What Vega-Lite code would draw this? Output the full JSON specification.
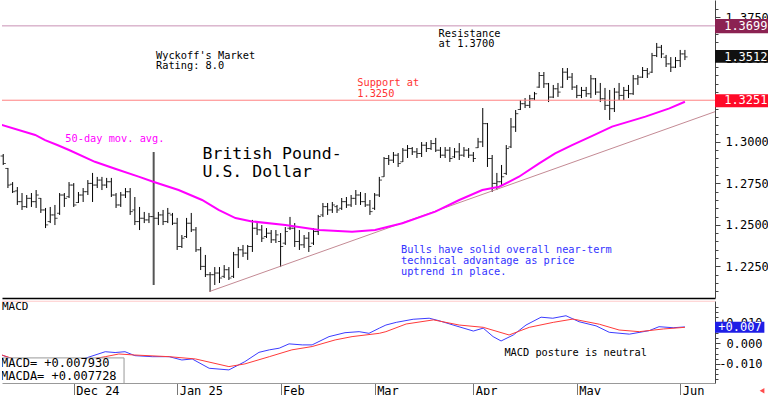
{
"$schema": "https://vega.github.io/schema/vega-lite/v6.json",
"padding": 0,
"autosize": {"type": "pad"},
"background": "white",
"spacing": 3,
"bounds": "flush",
"config": {"view": {"stroke": null}},
"datasets": {
"one": [{}],
"bars": [
{"i":-15,"o":1.2915,"h":1.2927,"l":1.2861,"c":1.2870},
{"i":-14,"o":1.2840,"h":1.2843,"l":1.2722,"c":1.2740},
{"i":-13,"o":1.2745,"h":1.2758,"l":1.2692,"c":1.2700},
{"i":-12,"o":1.2705,"h":1.2728,"l":1.2620,"c":1.2640},
{"i":-11,"o":1.2640,"h":1.2692,"l":1.2590,"c":1.2610},
{"i":-10,"o":1.2610,"h":1.2680,"l":1.2602,"c":1.2660},
{"i":-9,"o":1.2660,"h":1.2692,"l":1.2608,"c":1.2640},
{"i":-8,"o":1.2640,"h":1.2710,"l":1.2602,"c":1.2680},
{"i":-7,"o":1.2660,"h":1.2662,"l":1.2572,"c":1.2590},
{"i":-6,"o":1.2590,"h":1.2602,"l":1.2481,"c":1.2500},
{"i":-5,"o":1.2520,"h":1.2608,"l":1.2511,"c":1.2560},
{"i":-4,"o":1.2560,"h":1.2620,"l":1.2499,"c":1.2540},
{"i":-3,"o":1.2570,"h":1.2692,"l":1.2560,"c":1.2680},
{"i":-2,"o":1.2680,"h":1.2692,"l":1.2608,"c":1.2660},
{"i":-1,"o":1.2670,"h":1.2758,"l":1.2662,"c":1.2740},
{"i":0,"o":1.2740,"h":1.2752,"l":1.2608,"c":1.2620},
{"i":1,"o":1.2635,"h":1.2698,"l":1.2632,"c":1.2680},
{"i":2,"o":1.2680,"h":1.2722,"l":1.2638,"c":1.2700},
{"i":3,"o":1.2700,"h":1.2770,"l":1.2680,"c":1.2750},
{"i":4,"o":1.2750,"h":1.2813,"l":1.2638,"c":1.2740},
{"i":5,"o":1.2740,"h":1.2789,"l":1.2722,"c":1.2770},
{"i":6,"o":1.2770,"h":1.2789,"l":1.2710,"c":1.2740},
{"i":7,"o":1.2740,"h":1.2783,"l":1.2722,"c":1.2760},
{"i":8,"o":1.2760,"h":1.2783,"l":1.2668,"c":1.2680},
{"i":9,"o":1.2680,"h":1.2692,"l":1.2602,"c":1.2620},
{"i":10,"o":1.2620,"h":1.2698,"l":1.2608,"c":1.2680},
{"i":11,"o":1.2680,"h":1.2722,"l":1.2662,"c":1.2700},
{"i":12,"o":1.2700,"h":1.2722,"l":1.2560,"c":1.2580},
{"i":13,"o":1.2590,"h":1.2668,"l":1.2499,"c":1.2520},
{"i":14,"o":1.2520,"h":1.2608,"l":1.2469,"c":1.2540},
{"i":15,"o":1.2540,"h":1.2578,"l":1.2511,"c":1.2530},
{"i":16,"o":1.2530,"h":1.2572,"l":1.2511,"c":1.2550},
{"i":17,"o":1.2550,"h":1.2939,"l":1.2138,"c":1.2540},
{"i":18,"o":1.2540,"h":1.2578,"l":1.2499,"c":1.2560},
{"i":19,"o":1.2560,"h":1.2590,"l":1.2499,"c":1.2520},
{"i":20,"o":1.2520,"h":1.2602,"l":1.2511,"c":1.2570},
{"i":21,"o":1.2560,"h":1.2572,"l":1.2499,"c":1.2510},
{"i":22,"o":1.2510,"h":1.2542,"l":1.2349,"c":1.2370},
{"i":23,"o":1.2370,"h":1.2439,"l":1.2361,"c":1.2420},
{"i":24,"o":1.2430,"h":1.2542,"l":1.2421,"c":1.2510},
{"i":25,"o":1.2510,"h":1.2572,"l":1.2457,"c":1.2470},
{"i":26,"o":1.2470,"h":1.2487,"l":1.2337,"c":1.2350},
{"i":27,"o":1.2350,"h":1.2367,"l":1.2228,"c":1.2250},
{"i":28,"o":1.2250,"h":1.2319,"l":1.2186,"c":1.2200},
{"i":29,"o":1.2200,"h":1.2216,"l":1.2096,"c":1.2200},
{"i":30,"o":1.2200,"h":1.2246,"l":1.2138,"c":1.2210},
{"i":31,"o":1.2210,"h":1.2246,"l":1.2150,"c":1.2180},
{"i":32,"o":1.2190,"h":1.2258,"l":1.2180,"c":1.2230},
{"i":33,"o":1.2230,"h":1.2246,"l":1.2168,"c":1.2180},
{"i":34,"o":1.2190,"h":1.2337,"l":1.2180,"c":1.2320},
{"i":35,"o":1.2320,"h":1.2367,"l":1.2240,"c":1.2350},
{"i":36,"o":1.2350,"h":1.2379,"l":1.2307,"c":1.2330},
{"i":37,"o":1.2330,"h":1.2379,"l":1.2289,"c":1.2370},
{"i":38,"o":1.2370,"h":1.2530,"l":1.2337,"c":1.2480},
{"i":39,"o":1.2480,"h":1.2511,"l":1.2439,"c":1.2470},
{"i":40,"o":1.2470,"h":1.2499,"l":1.2397,"c":1.2420},
{"i":41,"o":1.2430,"h":1.2481,"l":1.2421,"c":1.2450},
{"i":42,"o":1.2450,"h":1.2469,"l":1.2391,"c":1.2410},
{"i":43,"o":1.2410,"h":1.2469,"l":1.2391,"c":1.2440},
{"i":44,"o":1.2400,"h":1.2451,"l":1.2246,"c":1.2370},
{"i":45,"o":1.2390,"h":1.2487,"l":1.2379,"c":1.2460},
{"i":46,"o":1.2480,"h":1.2548,"l":1.2469,"c":1.2480},
{"i":47,"o":1.2480,"h":1.2511,"l":1.2367,"c":1.2400},
{"i":48,"o":1.2400,"h":1.2469,"l":1.2349,"c":1.2380},
{"i":49,"o":1.2380,"h":1.2439,"l":1.2361,"c":1.2420},
{"i":50,"o":1.2420,"h":1.2457,"l":1.2337,"c":1.2370},
{"i":51,"o":1.2390,"h":1.2481,"l":1.2379,"c":1.2460},
{"i":52,"o":1.2460,"h":1.2560,"l":1.2439,"c":1.2550},
{"i":53,"o":1.2560,"h":1.2632,"l":1.2548,"c":1.2610},
{"i":54,"o":1.2610,"h":1.2632,"l":1.2560,"c":1.2590},
{"i":55,"o":1.2590,"h":1.2638,"l":1.2572,"c":1.2620},
{"i":56,"o":1.2610,"h":1.2620,"l":1.2572,"c":1.2590},
{"i":57,"o":1.2600,"h":1.2662,"l":1.2590,"c":1.2640},
{"i":58,"o":1.2640,"h":1.2668,"l":1.2602,"c":1.2620},
{"i":59,"o":1.2620,"h":1.2680,"l":1.2608,"c":1.2660},
{"i":60,"o":1.2660,"h":1.2710,"l":1.2620,"c":1.2680},
{"i":61,"o":1.2680,"h":1.2698,"l":1.2620,"c":1.2640},
{"i":62,"o":1.2640,"h":1.2692,"l":1.2608,"c":1.2620},
{"i":63,"o":1.2620,"h":1.2650,"l":1.2560,"c":1.2580},
{"i":64,"o":1.2600,"h":1.2692,"l":1.2590,"c":1.2680},
{"i":65,"o":1.2680,"h":1.2789,"l":1.2668,"c":1.2770},
{"i":66,"o":1.2790,"h":1.2909,"l":1.2789,"c":1.2900},
{"i":67,"o":1.2900,"h":1.2921,"l":1.2861,"c":1.2890},
{"i":68,"o":1.2890,"h":1.2939,"l":1.2873,"c":1.2920},
{"i":69,"o":1.2920,"h":1.2933,"l":1.2849,"c":1.2870},
{"i":70,"o":1.2880,"h":1.2963,"l":1.2879,"c":1.2950},
{"i":71,"o":1.2950,"h":1.2981,"l":1.2903,"c":1.2960},
{"i":72,"o":1.2960,"h":1.2969,"l":1.2921,"c":1.2940},
{"i":73,"o":1.2940,"h":1.2963,"l":1.2903,"c":1.2930},
{"i":74,"o":1.2930,"h":1.2999,"l":1.2909,"c":1.2980},
{"i":75,"o":1.2980,"h":1.2999,"l":1.2939,"c":1.2960},
{"i":76,"o":1.2960,"h":1.3011,"l":1.2951,"c":1.2990},
{"i":77,"o":1.2990,"h":1.3024,"l":1.2939,"c":1.2950},
{"i":78,"o":1.2950,"h":1.2969,"l":1.2903,"c":1.2920},
{"i":79,"o":1.2920,"h":1.2969,"l":1.2903,"c":1.2950},
{"i":80,"o":1.2950,"h":1.2969,"l":1.2879,"c":1.2900},
{"i":81,"o":1.2910,"h":1.2963,"l":1.2903,"c":1.2940},
{"i":82,"o":1.2940,"h":1.2993,"l":1.2891,"c":1.2920},
{"i":83,"o":1.2920,"h":1.2969,"l":1.2909,"c":1.2950},
{"i":84,"o":1.2950,"h":1.2963,"l":1.2903,"c":1.2920},
{"i":85,"o":1.2920,"h":1.2939,"l":1.2879,"c":1.2900},
{"i":86,"o":1.2965,"h":1.3024,"l":1.2963,"c":1.3000},
{"i":87,"o":1.3000,"h":1.3204,"l":1.2969,"c":1.3110},
{"i":88,"o":1.3110,"h":1.3114,"l":1.2849,"c":1.2900},
{"i":89,"o":1.2900,"h":1.2921,"l":1.2698,"c":1.2750},
{"i":90,"o":1.2750,"h":1.2813,"l":1.2710,"c":1.2760},
{"i":91,"o":1.2760,"h":1.2861,"l":1.2740,"c":1.2790},
{"i":92,"o":1.2810,"h":1.2981,"l":1.2801,"c":1.2960},
{"i":93,"o":1.2970,"h":1.3144,"l":1.2963,"c":1.3090},
{"i":94,"o":1.3090,"h":1.3192,"l":1.3060,"c":1.3170},
{"i":95,"o":1.3195,"h":1.3252,"l":1.3192,"c":1.3230},
{"i":96,"o":1.3230,"h":1.3264,"l":1.3204,"c":1.3220},
{"i":97,"o":1.3220,"h":1.3283,"l":1.3204,"c":1.3260},
{"i":98,"o":1.3260,"h":1.3301,"l":1.3252,"c":1.3290},
{"i":99,"o":1.3330,"h":1.3421,"l":1.3325,"c":1.3400},
{"i":100,"o":1.3400,"h":1.3421,"l":1.3325,"c":1.3350},
{"i":101,"o":1.3350,"h":1.3355,"l":1.3240,"c":1.3270},
{"i":102,"o":1.3270,"h":1.3343,"l":1.3264,"c":1.3320},
{"i":103,"o":1.3320,"h":1.3355,"l":1.3271,"c":1.3300},
{"i":104,"o":1.3330,"h":1.3445,"l":1.3325,"c":1.3420},
{"i":105,"o":1.3420,"h":1.3445,"l":1.3373,"c":1.3390},
{"i":106,"o":1.3390,"h":1.3415,"l":1.3313,"c":1.3330},
{"i":107,"o":1.3330,"h":1.3343,"l":1.3264,"c":1.3280},
{"i":108,"o":1.3280,"h":1.3331,"l":1.3264,"c":1.3310},
{"i":109,"o":1.3310,"h":1.3331,"l":1.3271,"c":1.3290},
{"i":110,"o":1.3290,"h":1.3403,"l":1.3264,"c":1.3380},
{"i":111,"o":1.3380,"h":1.3385,"l":1.3283,"c":1.3300},
{"i":112,"o":1.3300,"h":1.3355,"l":1.3240,"c":1.3260},
{"i":113,"o":1.3260,"h":1.3325,"l":1.3192,"c":1.3220},
{"i":114,"o":1.3220,"h":1.3313,"l":1.3132,"c":1.3200},
{"i":115,"o":1.3200,"h":1.3325,"l":1.3180,"c":1.3300},
{"i":116,"o":1.3300,"h":1.3355,"l":1.3252,"c":1.3280},
{"i":117,"o":1.3280,"h":1.3331,"l":1.3252,"c":1.3310},
{"i":118,"o":1.3310,"h":1.3343,"l":1.3264,"c":1.3290},
{"i":119,"o":1.3290,"h":1.3403,"l":1.3283,"c":1.3380},
{"i":120,"o":1.3380,"h":1.3403,"l":1.3343,"c":1.3390},
{"i":121,"o":1.3390,"h":1.3451,"l":1.3385,"c":1.3430},
{"i":122,"o":1.3430,"h":1.3445,"l":1.3385,"c":1.3410},
{"i":123,"o":1.3420,"h":1.3536,"l":1.3415,"c":1.3520},
{"i":124,"o":1.3520,"h":1.3596,"l":1.3511,"c":1.3570},
{"i":125,"o":1.3570,"h":1.3584,"l":1.3505,"c":1.3530},
{"i":126,"o":1.3510,"h":1.3524,"l":1.3451,"c":1.3470},
{"i":127,"o":1.3470,"h":1.3511,"l":1.3421,"c":1.3450},
{"i":128,"o":1.3450,"h":1.3511,"l":1.3445,"c":1.3490},
{"i":129,"o":1.3490,"h":1.3554,"l":1.3451,"c":1.3530},
{"i":130,"o":1.3530,"h":1.3554,"l":1.3493,"c":1.3512}
],
"ma": [
{"i":-15.3,"p":1.3102},{"i":-8.2,"p":1.3042},{"i":-6.1,"p":1.3011},{"i":-3.5,"p":1.2981},{"i":-1.0,"p":1.2951},{"i":4.5,"p":1.2880},{"i":8.8,"p":1.2838},{"i":13.8,"p":1.2791},{"i":16.9,"p":1.2760},{"i":22.3,"p":1.2710},{"i":27.3,"p":1.2650},{"i":30.8,"p":1.2590},{"i":34.4,"p":1.2541},{"i":37.9,"p":1.2521},{"i":45.0,"p":1.2500},{"i":52.2,"p":1.2469},{"i":59.2,"p":1.2459},{"i":64.1,"p":1.2469},{"i":69.9,"p":1.2510},{"i":76.9,"p":1.2580},{"i":82.0,"p":1.2650},{"i":86.9,"p":1.2710},{"i":90.5,"p":1.2730},{"i":94.7,"p":1.2790},{"i":99.0,"p":1.2871},{"i":102.4,"p":1.2931},{"i":106.0,"p":1.2981},{"i":110.3,"p":1.3036},{"i":114.5,"p":1.3092},{"i":121.6,"p":1.3152},{"i":126.7,"p":1.3202},{"i":130.0,"p":1.3242}
],
"trend": [{"i":28.8,"p":1.2098},{"i":136.4,"p":1.3182}],
"macd": [
{"s":"MACD","i":-15.3,"v":-0.0057},{"s":"MACD","i":-12,"v":-0.0085},{"s":"MACD","i":-6,"v":-0.0105},{"s":"MACD","i":-1,"v":-0.0095},{"s":"MACD","i":2.4,"v":-0.0073},{"s":"MACD","i":6.7,"v":-0.0041},{"s":"MACD","i":8.8,"v":-0.0045},{"s":"MACD","i":10.9,"v":-0.0041},{"s":"MACD","i":13.0,"v":-0.0060},{"s":"MACD","i":16.7,"v":-0.0065},{"s":"MACD","i":20.3,"v":-0.0065},{"s":"MACD","i":23.0,"v":-0.0081},{"s":"MACD","i":25.2,"v":-0.0076},{"s":"MACD","i":28.8,"v":-0.0121},{"s":"MACD","i":33.0,"v":-0.0129},{"s":"MACD","i":36.4,"v":-0.0089},{"s":"MACD","i":39.4,"v":-0.0044},{"s":"MACD","i":41.6,"v":-0.0032},{"s":"MACD","i":43.7,"v":-0.0024},{"s":"MACD","i":45.8,"v":-0.0003},{"s":"MACD","i":48.6,"v":-0.0008},{"s":"MACD","i":50.7,"v":-0.0008},{"s":"MACD","i":54.3,"v":0.0032},{"s":"MACD","i":57.7,"v":0.0051},{"s":"MACD","i":60.7,"v":0.0056},{"s":"MACD","i":62.8,"v":0.0048},{"s":"MACD","i":65.0,"v":0.0073},{"s":"MACD","i":66.4,"v":0.0088},{"s":"MACD","i":68.6,"v":0.0101},{"s":"MACD","i":72.2,"v":0.0116},{"s":"MACD","i":75.6,"v":0.0121},{"s":"MACD","i":77.7,"v":0.0109},{"s":"MACD","i":81.3,"v":0.0084},{"s":"MACD","i":85.0,"v":0.0059},{"s":"MACD","i":87.1,"v":0.0073},{"s":"MACD","i":89.2,"v":0.0032},{"s":"MACD","i":90.9,"v":0.0011},{"s":"MACD","i":93.5,"v":0.0040},{"s":"MACD","i":96.2,"v":0.0088},{"s":"MACD","i":99.4,"v":0.0126},{"s":"MACD","i":101.9,"v":0.0121},{"s":"MACD","i":104.7,"v":0.0133},{"s":"MACD","i":107.5,"v":0.0104},{"s":"MACD","i":111.1,"v":0.0084},{"s":"MACD","i":113.9,"v":0.0053},{"s":"MACD","i":118.2,"v":0.0044},{"s":"MACD","i":122.4,"v":0.0061},{"s":"MACD","i":124.5,"v":0.0080},{"s":"MACD","i":127.5,"v":0.0075},{"s":"MACD","i":130,"v":0.0079},
{"s":"MACDA","i":-15.3,"v":-0.0057},{"s":"MACDA","i":-13.1,"v":-0.0073},{"s":"MACDA","i":-8,"v":-0.0090},{"s":"MACDA","i":-2,"v":-0.0095},{"s":"MACDA","i":3,"v":-0.0080},{"s":"MACDA","i":6.7,"v":-0.0065},{"s":"MACDA","i":9.6,"v":-0.0052},{"s":"MACDA","i":13.0,"v":-0.0057},{"s":"MACDA","i":20.3,"v":-0.0065},{"s":"MACDA","i":25.9,"v":-0.0076},{"s":"MACDA","i":33.0,"v":-0.0113},{"s":"MACDA","i":36.4,"v":-0.0100},{"s":"MACDA","i":41.6,"v":-0.0065},{"s":"MACDA","i":46.4,"v":-0.0032},{"s":"MACDA","i":50.7,"v":-0.0016},{"s":"MACDA","i":55.6,"v":0.0016},{"s":"MACDA","i":59.2,"v":0.0032},{"s":"MACDA","i":65.0,"v":0.0048},{"s":"MACDA","i":66.4,"v":0.0056},{"s":"MACDA","i":70.7,"v":0.0093},{"s":"MACDA","i":76.5,"v":0.0113},{"s":"MACDA","i":82.0,"v":0.0088},{"s":"MACDA","i":87.1,"v":0.0077},{"s":"MACDA","i":92.6,"v":0.0040},{"s":"MACDA","i":96.9,"v":0.0077},{"s":"MACDA","i":102.0,"v":0.0101},{"s":"MACDA","i":106.2,"v":0.0117},{"s":"MACDA","i":111.8,"v":0.0092},{"s":"MACDA","i":116.0,"v":0.0064},{"s":"MACDA","i":120.3,"v":0.0056},{"s":"MACDA","i":125.4,"v":0.0069},{"s":"MACDA","i":130,"v":0.0077}
]
},
"vconcat": [
{
"width": 713, "height": 298,
"layer": [
{"data": {"name": "bars"},
 "mark": {"type": "rule", "color": "#000"},
 "encoding": {
  "x": {"field": "i", "type": "quantitative", "scale": {"domain": [-15.26, 136.4], "nice": false, "zero": false},
        "axis": {"labels": false, "ticks": false, "title": null, "grid": false, "domainColor": "#000", "domainWidth": 1.5}},
  "y": {"field": "l", "type": "quantitative", "scale": {"domain": [1.20596, 1.38548], "nice": false, "zero": false},
        "axis": {"orient": "right", "title": null, "grid": false, "tickCount": 200,
          "values": [1.210,1.215,1.220,1.225,1.230,1.235,1.240,1.245,1.250,1.255,1.260,1.265,1.270,1.275,1.280,1.285,1.290,1.295,1.300,1.305,1.310,1.315,1.320,1.325,1.330,1.335,1.340,1.345,1.350,1.355,1.360,1.365,1.370,1.375,1.380],
          "labelExpr": "abs(datum.value*40 - round(datum.value*40)) < 0.01 ? format(datum.value, '.4f') : ''",
          "tickSize": {"condition": {"test": "abs(datum.value*40 - round(datum.value*40)) < 0.01", "value": 5}, "value": 3},
          "tickColor": "#444", "domainColor": "#444", "labelPadding": 5, "labelOverlap": false, "labelFlush": false,
          "labelFont": "DejaVu Sans Mono", "labelFontSize": 12, "labelColor": "#000", "labelBaseline": "middle"}},
  "y2": {"field": "h"},
  "color": {"condition": {"test": "datum.h - datum.l > 0.05", "value": "#555"}, "value": "#000"},
  "strokeWidth": {"condition": {"test": "datum.h - datum.l > 0.05", "value": 2}, "value": 1}
 }},
{"data": {"name": "one"}, "mark": {"type": "rule", "color": "#c890b4", "strokeWidth": 1}, "encoding": {"y": {"datum": 1.3699, "type": "quantitative"}}},
{"data": {"name": "one"}, "mark": {"type": "rule", "color": "#ff8080", "strokeWidth": 1}, "encoding": {"y": {"datum": 1.3251, "type": "quantitative"}}},
{"data": {"name": "trend"}, "mark": {"type": "line", "color": "#c48a94", "strokeWidth": 1, "clip": true},
 "encoding": {"x": {"field": "i", "type": "quantitative"}, "y": {"field": "p", "type": "quantitative"}}},
{"data": {"name": "ma"}, "mark": {"type": "line", "color": "#ff00ff", "strokeWidth": 2, "clip": true},
 "encoding": {"x": {"field": "i", "type": "quantitative"}, "y": {"field": "p", "type": "quantitative"}}},
{"data": {"name": "bars"}, "mark": {"type": "tick", "orient": "horizontal", "size": 2.5, "thickness": 1, "xOffset": -1.4, "color": "#000"},
 "encoding": {"x": {"field": "i", "type": "quantitative"}, "y": {"field": "o", "type": "quantitative"}}},
{"data": {"name": "bars"}, "mark": {"type": "tick", "orient": "horizontal", "size": 2.5, "thickness": 1, "xOffset": 1.4, "color": "#000"},
 "encoding": {"x": {"field": "i", "type": "quantitative"}, "y": {"field": "c", "type": "quantitative"}}},
{"data": {"values": [
  {"t": "Wyckoff's Market", "i": 17.5, "p": 1.3499},
  {"t": "Rating: 8.0", "i": 17.5, "p": 1.3439},
  {"t": "Resistance", "i": 77.6, "p": 1.3632},
  {"t": "at 1.3700", "i": 77.6, "p": 1.3573}]},
 "mark": {"type": "text", "align": "left", "baseline": "alphabetic", "font": "DejaVu Sans Mono", "fontSize": 10.3, "color": "#000"},
 "encoding": {"x": {"field": "i", "type": "quantitative"}, "y": {"field": "p", "type": "quantitative"}, "text": {"field": "t"}}},
{"data": {"values": [
  {"t": "Support at", "i": 60.3, "p": 1.3334},
  {"t": "1.3250", "i": 60.3, "p": 1.3272}]},
 "mark": {"type": "text", "align": "left", "baseline": "alphabetic", "font": "DejaVu Sans Mono", "fontSize": 10.3, "color": "#ff3333"},
 "encoding": {"x": {"field": "i", "type": "quantitative"}, "y": {"field": "p", "type": "quantitative"}, "text": {"field": "t"}}},
{"data": {"values": [{"t": "50-day mov. avg.", "i": -1.8, "p": 1.2999}]},
 "mark": {"type": "text", "align": "left", "baseline": "alphabetic", "font": "DejaVu Sans Mono", "fontSize": 10.3, "color": "#ff00ff"},
 "encoding": {"x": {"field": "i", "type": "quantitative"}, "y": {"field": "p", "type": "quantitative"}, "text": {"field": "t"}}},
{"data": {"values": [
  {"t": "British Pound-", "i": 27.4, "p": 1.2895},
  {"t": "U.S. Dollar", "i": 27.4, "p": 1.2790}]},
 "mark": {"type": "text", "align": "left", "baseline": "alphabetic", "font": "DejaVu Sans Mono", "fontSize": 16.5, "color": "#000"},
 "encoding": {"x": {"field": "i", "type": "quantitative"}, "y": {"field": "p", "type": "quantitative"}, "text": {"field": "t"}}},
{"data": {"values": [
  {"t": "Bulls have solid overall near-term", "i": 69.6, "p": 1.2328},
  {"t": "technical advantage as price", "i": 69.6, "p": 1.2264},
  {"t": "uptrend in place.", "i": 69.6, "p": 1.2201}]},
 "mark": {"type": "text", "align": "left", "baseline": "alphabetic", "font": "DejaVu Sans Mono", "fontSize": 10.3, "color": "#3333ff"},
 "encoding": {"x": {"field": "i", "type": "quantitative"}, "y": {"field": "p", "type": "quantitative"}, "text": {"field": "t"}}},
{"data": {"name": "one"}, "mark": {"type": "rect", "color": "#8b2252", "clip": false},
 "encoding": {"x": {"datum": 136.4, "type": "quantitative"}, "x2": {"datum": 148.2}, "y": {"datum": 1.37403, "type": "quantitative"}, "y2": {"datum": 1.36542}}},
{"data": {"name": "one"}, "mark": {"type": "rect", "color": "#111111", "clip": false},
 "encoding": {"x": {"datum": 136.4, "type": "quantitative"}, "x2": {"datum": 148.2}, "y": {"datum": 1.35536, "type": "quantitative"}, "y2": {"datum": 1.34771}}},
{"data": {"name": "one"}, "mark": {"type": "rect", "color": "#ff0a28", "clip": false},
 "encoding": {"x": {"datum": 136.4, "type": "quantitative"}, "x2": {"datum": 148.2}, "y": {"datum": 1.32867, "type": "quantitative"}, "y2": {"datum": 1.32084}}},
{"data": {"values": [{"t": "1.3699", "p": 1.3699}, {"t": "1.3512", "p": 1.3512}, {"t": "1.3251", "p": 1.3251}]},
 "mark": {"type": "text", "align": "left", "baseline": "middle", "font": "DejaVu Sans Mono", "fontSize": 12, "color": "#ffffff", "clip": false},
 "encoding": {"x": {"datum": 138.35, "type": "quantitative"}, "y": {"field": "p", "type": "quantitative"}, "text": {"field": "t"}}}
]
},
{
"width": 713, "height": 82,
"layer": [
{"data": {"name": "macd"},
 "mark": {"type": "line", "strokeWidth": 1, "clip": true},
 "encoding": {
  "x": {"field": "i", "type": "quantitative", "scale": {"domain": [-15.26, 136.4], "nice": false, "zero": false},
        "axis": {"values": [0, 22, 44, 64, 85, 107, 129], "title": null, "grid": false, "tickCount": 200,
          "labelExpr": "datum.value == 0 ? 'Dec 24' : datum.value == 22 ? 'Jan 25' : datum.value == 44 ? 'Feb' : datum.value == 64 ? 'Mar' : datum.value == 85 ? 'Apr' : datum.value == 107 ? 'May' : 'Jun'",
          "tickSize": 12, "tickColor": "#777", "domainColor": "#999", "labelAlign": "left", "labelBaseline": "top",
          "labelPadding": -10, "labelOffset": 2, "labelFont": "DejaVu Sans Mono", "labelFontSize": 12, "labelColor": "#000",
          "labelFlush": false, "labelOverlap": false}},
  "y": {"field": "v", "type": "quantitative", "scale": {"domain": [-0.01923, 0.02043], "nice": false, "zero": false},
        "axis": {"orient": "right", "title": null, "grid": false, "tickCount": 200,
          "values": [-0.0175,-0.015,-0.0125,-0.01,-0.0075,-0.005,-0.0025,0,0.0025,0.005,0.0075,0.01,0.0125,0.015,0.0175],
          "labelExpr": "abs(datum.value*100 - round(datum.value*100)) < 0.01 ? (datum.value > 0.0001 ? '+' + format(datum.value, '.3f') : datum.value < -0.0001 ? '-' + format(abs(datum.value), '.3f') : '0.000') : ''",
          "tickSize": {"condition": {"test": "abs(datum.value*100 - round(datum.value*100)) < 0.01", "value": 5}, "value": 3},
          "tickColor": "#444", "domainColor": "#444", "labelAlign": "right", "labelPadding": 42, "labelOverlap": false, "labelFlush": false,
          "labelFont": "DejaVu Sans Mono", "labelFontSize": 12, "labelColor": "#000", "labelBaseline": "middle"}},
  "color": {"field": "s", "type": "nominal", "scale": {"domain": ["MACD", "MACDA"], "range": ["#3c3cff", "#ff3a3a"]}, "legend": null},
  "order": {"field": "i"}
 }},
{"data": {"name": "one"}, "mark": {"type": "rule", "color": "#ffcccc", "strokeWidth": 1}, "encoding": {"y": {"datum": 0.0203, "type": "quantitative"}}},
{"data": {"name": "one"}, "mark": {"type": "rect", "fill": "#ffffff", "stroke": "#999999", "strokeWidth": 1, "clip": true},
 "encoding": {"x": {"datum": -15.6, "type": "quantitative"}, "x2": {"datum": 10.7}, "y": {"datum": -0.0071, "type": "quantitative"}, "y2": {"datum": -0.0196}}},
{"data": {"values": [{"t": "MACD=  +0.007930", "v": -0.01169}, {"t": "MACDA= +0.007728", "v": -0.01773}]},
 "mark": {"type": "text", "align": "left", "baseline": "alphabetic", "font": "DejaVu Sans Mono", "fontSize": 12, "color": "#000", "clip": true, "dx": -1},
 "encoding": {"x": {"datum": -15.26, "type": "quantitative"}, "y": {"field": "v", "type": "quantitative"}, "text": {"field": "t"}}},
{"data": {"values": [{"t": "MACD", "v": 0.0161}]},
 "mark": {"type": "text", "align": "left", "baseline": "alphabetic", "font": "DejaVu Sans Mono", "fontSize": 11, "color": "#000"},
 "encoding": {"x": {"datum": -15.26, "type": "quantitative"}, "y": {"field": "v", "type": "quantitative"}, "text": {"field": "t"}}},
{"data": {"values": [{"t": "MACD posture is neutral", "v": -0.00614}]},
 "mark": {"type": "text", "align": "left", "baseline": "alphabetic", "font": "DejaVu Sans Mono", "fontSize": 10.3, "color": "#000"},
 "encoding": {"x": {"datum": 91.6, "type": "quantitative"}, "y": {"field": "v", "type": "quantitative"}, "text": {"field": "t"}}},
{"data": {"name": "one"}, "mark": {"type": "rect", "color": "#1e1ee6", "clip": false},
 "encoding": {"x": {"datum": 136.4, "type": "quantitative"}, "x2": {"datum": 146.9}, "y": {"datum": 0.01043, "type": "quantitative"}, "y2": {"datum": 0.00512}}},
{"data": {"values": [{"t": "+0.007", "v": 0.00778}]},
 "mark": {"type": "text", "align": "left", "baseline": "middle", "font": "DejaVu Sans Mono", "fontSize": 12, "color": "#ffffff", "clip": false},
 "encoding": {"x": {"datum": 137.1, "type": "quantitative"}, "y": {"field": "v", "type": "quantitative"}, "text": {"field": "t"}}},
{"data": {"name": "one"}, "mark": {"type": "point", "shape": "triangle-left", "filled": true, "color": "#ff0000", "size": 30, "clip": false},
 "encoding": {"x": {"datum": 146.4, "type": "quantitative"}, "y": {"datum": -0.0230, "type": "quantitative"}}}
]
}
]
}
